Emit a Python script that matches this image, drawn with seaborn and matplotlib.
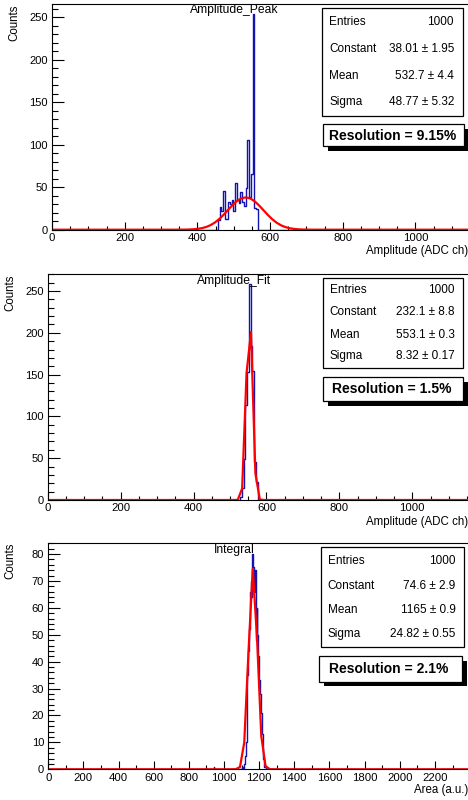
import numpy as np
import pandas as pd
import matplotlib
matplotlib.use("Agg")
import matplotlib.pyplot as plt
from matplotlib.ticker import MultipleLocator
from matplotlib.patches import Rectangle
import seaborn as sns

# ---- data ----
BIN_W = 4.8  # histogram bin width (ADC ch / a.u.)

# Amplitude_Peak
peak_first_bin = 456.0
peak_counts = [11, 27, 22, 46, 13, 12, 32, 30, 35, 22, 55, 35, 31, 44, 33, 28,
               49, 105, 39, 66, 253, 25, 24]
peak_fit = (38.01, 532.7, 48.77)
peak_stats = ["1000", "38.01 \u00b1 1.95", "532.7 \u00b1 4.4", "48.77 \u00b1 5.32"]
peak_res = "Resolution = 9.15%"

# Amplitude_Fit
fit_first_bin = 528.0
fit_counts = [3, 14, 49, 114, 153, 258, 184, 154, 45, 22]
fit_fit = (232.1, 553.1, 8.32)
fit_stats = ["1000", "232.1 \u00b1 8.8", "553.1 \u00b1 0.3", "8.32 \u00b1 0.17"]
fit_res = "Resolution = 1.5%"

# Integral
int_first_bin = 1104.0
int_counts = [1, 0, 2, 5, 10, 22, 35, 44, 52, 66, 70, 64, 80, 75, 66, 74, 48,
              60, 50, 42, 33, 28, 21, 13, 8, 4, 1, 1]
int_outlier_x = [940.8]
int_outlier_n = [1]
int_fit = (74.6, 1165.0, 24.82)
int_stats = ["1000", "74.6 \u00b1 2.9", "1165 \u00b1 0.9", "24.82 \u00b1 0.55"]
int_res = "Resolution = 2.1%"

stat_names = ["Entries", "Constant", "Mean", "Sigma"]

BLUE = "#1212b0"
RED = "#ff0000"

W, H = 468, 800

sns.set_style("ticks")
plt.rcParams["font.family"] = ["Liberation Sans", "DejaVu Sans"]
plt.rcParams["text.color"] = "black"
plt.rcParams["xtick.color"] = "black"
plt.rcParams["ytick.color"] = "black"
plt.rcParams["axes.labelcolor"] = "black"


def fx(px):
    return px / W


def fy(py):
    return 1 - py / H


def panel(fig, left, px_per_unit, top, bottom, x_max, x_show, y_max, first_bin, counts,
          fit, title, title_y, stats, stat_rows, box, res, res_box, res_c,
          xlabel, xlab_pos, ylab_pos, y_major, y_minor, x_minor,
          extra_x=(), extra_n=()):
    ax = fig.add_axes([fx(left), fy(bottom), fx(x_show * px_per_unit), (bottom - top) / H])

    nbins = int(round(x_max / BIN_W))
    centers = (np.arange(nbins) + 0.5) * BIN_W
    weights = np.zeros(nbins)
    i0 = int(round(first_bin / BIN_W))
    weights[i0:i0 + len(counts)] = counts
    for ex, en in zip(extra_x, extra_n):
        weights[int(round(ex / BIN_W))] += en
    df = pd.DataFrame({"x": centers, "n": weights})
    sns.histplot(data=df, x="x", weights="n", binwidth=BIN_W, binrange=(0, x_max),
                 element="step", fill=False, color=BLUE, linewidth=1.0, ax=ax)

    # gaussian fit drawn with 100 points like ROOT's TF1
    c, m, s = fit
    xf = np.linspace(0, x_max, 100)
    ax.plot(xf, c * np.exp(-0.5 * ((xf - m) / s) ** 2), color=RED, linewidth=1.6)

    ax.set_xlim(0, x_show)
    ax.set_ylim(0, y_max)
    ax.set_xlabel("")
    ax.set_ylabel("")
    ax.xaxis.set_major_locator(MultipleLocator(200))
    ax.xaxis.set_minor_locator(MultipleLocator(x_minor))
    ax.yaxis.set_major_locator(MultipleLocator(y_major))
    ax.yaxis.set_minor_locator(MultipleLocator(y_minor))
    ax.tick_params(axis="both", which="both", direction="in", top=False, right=False,
                   width=0.8, color="black", labelcolor="black")
    ax.tick_params(axis="y", which="major", length=8.5, labelsize=8, pad=3)
    ax.tick_params(axis="y", which="minor", length=4.5)
    ax.tick_params(axis="x", which="major", length=5.5, labelsize=8.2, pad=2.5)
    ax.tick_params(axis="x", which="minor", length=3)
    for sp in ax.spines.values():
        sp.set_linewidth(0.8)
        sp.set_color("black")
    ax.spines["right"].set_visible(False)

    fig.text(fx(234), fy(title_y), title, ha="center", va="center", fontsize=8.7)
    fig.text(fx(xlab_pos[0]), fy(xlab_pos[1]), xlabel, ha="right", va="center", fontsize=8.3)
    fig.text(fx(ylab_pos[0]), fy(ylab_pos[1]), "Counts", ha="center", va="top",
             rotation=90, fontsize=8.3)

    # stats box
    bx0, by0, bx1, by1 = box
    fig.patches.append(Rectangle((fx(bx0), fy(by1)), fx(bx1 - bx0), (by1 - by0) / H,
                                 transform=fig.transFigure, facecolor="white",
                                 edgecolor="black", linewidth=0.9, zorder=5))
    lx, rx = stat_rows[0], stat_rows[1]
    for name, val, ry in zip(stat_names, stats, stat_rows[2]):
        fig.text(fx(lx), fy(ry), name, ha="left", va="center", fontsize=8.5, zorder=6)
        fig.text(fx(rx), fy(ry), val, ha="right", va="center", fontsize=8.5, zorder=6)

    # resolution box with shadow
    rx0, ry0, rx1, ry1 = res_box
    fig.patches.append(Rectangle((fx(rx0 + 5), fy(ry1 + 4.5)), fx(rx1 - rx0), (ry1 - ry0) / H,
                                 transform=fig.transFigure, facecolor="black",
                                 edgecolor="black", linewidth=0, zorder=5))
    fig.patches.append(Rectangle((fx(rx0), fy(ry1)), fx(rx1 - rx0), (ry1 - ry0) / H,
                                 transform=fig.transFigure, facecolor="white",
                                 edgecolor="black", linewidth=0.9, zorder=6))
    fig.text(fx(res_c[0]), fy(res_c[1]), res, ha="center", va="center",
             fontsize=10, fontweight="bold", zorder=7)
    return ax


fig = plt.figure(figsize=(W / 100, H / 100), dpi=100)
fig.patch.set_facecolor("white")

panel(fig, 52, 0.3635, 4, 229.7, 1200, 1150, 265.3, peak_first_bin, peak_counts,
      peak_fit, "Amplitude_Peak", 10, peak_stats, (329, 454, [22, 49, 76, 102]),
      (322, 8, 463, 116), peak_res, (323, 124, 464, 146), (393, 135.5),
      "Amplitude (ADC ch)", (468, 251), (14, 5), 50, 10, 50)

panel(fig, 47.7, 0.3646, 274, 500, 1200, 1158, 270.3, fit_first_bin, fit_counts,
      fit_fit, "Amplitude_Fit", 281, fit_stats, (329.7, 455, [289.7, 311.7, 335, 355.7]),
      (322.7, 277.7, 463, 368), fit_res, (322.7, 377, 463, 401), (392, 389.5),
      "Amplitude (ADC ch)", (468, 522), (10, 275), 50, 10, 50)

panel(fig, 48.2, 0.1758, 542.7, 769.3, 2400, 2395, 84.2, int_first_bin, int_counts,
      int_fit, "Integral", 550, int_stats, (327.7, 455.7, [560.7, 585.7, 610, 634]),
      (320.7, 547.3, 464, 647.3), int_res, (319, 656, 461.7, 681.7), (389, 669.3),
      "Area (a.u.)", (468, 790), (10, 543), 10, 2, 100,
      extra_x=int_outlier_x, extra_n=int_outlier_n)

fig.savefig("out.png", dpi=100)
